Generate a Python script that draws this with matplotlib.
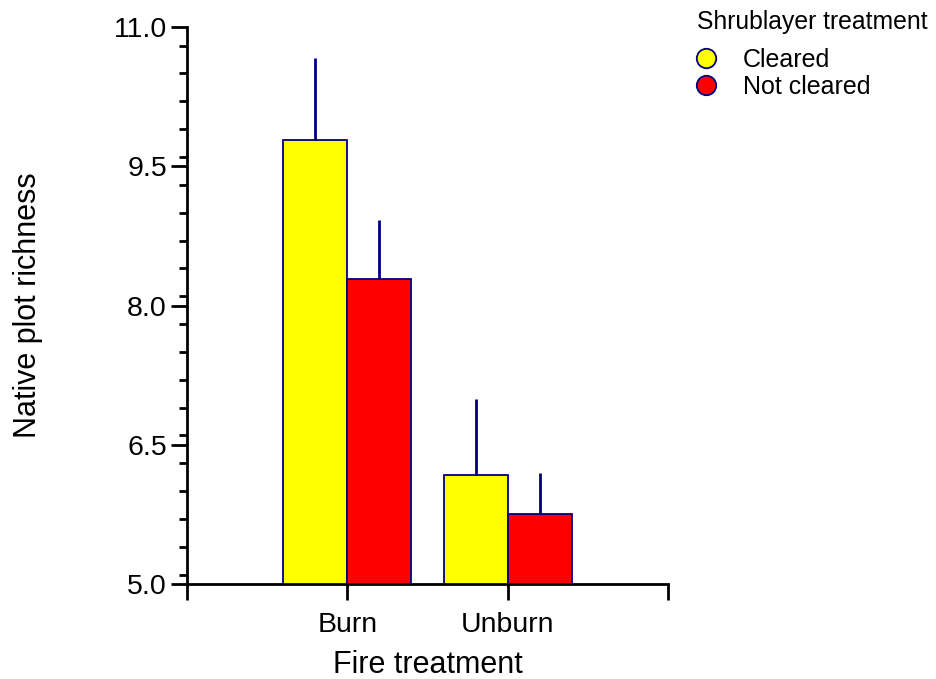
import numpy as np
import matplotlib.pyplot as plt
from matplotlib.lines import Line2D
from matplotlib.ticker import MultipleLocator

plt.rcParams['font.family'] = ['Liberation Sans', 'DejaVu Sans']

fire = ['Burn', 'Unburn']
shrub = ['Cleared', 'Not cleared']
colors = ['#ffff00', '#ff0000']
means = {'Cleared': [9.78, 6.17], 'Not cleared': [8.29, 5.75]}
upper_err = {'Cleared': [0.89, 0.82], 'Not cleared': [0.63, 0.45]}
base = 5.0
edge = '#000080'

fig = plt.figure(figsize=(9.37, 6.79), dpi=100)
ax = fig.add_axes([0.1996, 0.1399, 0.5133, 0.8203])

x = np.arange(1, len(fire) + 1)
width = 0.4
for i, s in enumerate(shrub):
    pos = x + (i - 0.5) * width
    vals = np.array(means[s])
    ax.bar(pos, vals - base, bottom=base, width=width, color=colors[i],
           edgecolor=edge, linewidth=1.3, zorder=2)
    ax.errorbar(pos, vals, yerr=[np.zeros_like(vals), upper_err[s]], fmt='none',
                ecolor=edge, elinewidth=2, capsize=0, zorder=3)

ax.set_xlim(0, 3)
ax.set_ylim(5.0, 11.0)
ax.set_xticks([0, 1, 2, 3])
ax.set_xticklabels(['', 'Burn', 'Unburn', ''])
ax.set_yticks([5.0, 6.5, 8.0, 9.5, 11.0])
ax.set_yticklabels(['5.0', '6.5', '8.0', '9.5', '11.0'])
ax.yaxis.set_minor_locator(MultipleLocator(0.3))

for side in ['top', 'right']:
    ax.spines[side].set_visible(False)
for side in ['left', 'bottom']:
    ax.spines[side].set_linewidth(2)
    ax.spines[side].set_zorder(1)

ax.tick_params(axis='both', which='major', direction='out', length=11.5, width=2,
               labelsize=20.5)
ax.tick_params(axis='y', which='major', pad=3)
ax.tick_params(axis='x', which='major', pad=9)
ax.tick_params(axis='y', which='minor', direction='out', length=5.8, width=2)

ax.set_xlabel('Fire treatment', fontsize=22, labelpad=8)
ax.set_ylabel('Native plot richness', fontsize=22)
ax.yaxis.set_label_coords(-0.30, 0.5)

# legend title drawn separately so the gap below it matches
fig.text(697 / 937, 1 - 10 / 679, 'Shrublayer treatment', fontsize=17.8,
         ha='left', va='top')
handles = [Line2D([], [], marker='o', linestyle='none', markersize=14,
                  markerfacecolor=c, markeredgecolor=edge, markeredgewidth=1.3)
           for c in colors]
leg = fig.legend(handles, shrub, loc='upper left',
                 bbox_to_anchor=(0.740, 0.930), frameon=False, fontsize=18,
                 handletextpad=0.98, labelspacing=0.12, borderpad=0,
                 handlelength=1.0, borderaxespad=0)

fig.savefig('out.png', dpi=100)
